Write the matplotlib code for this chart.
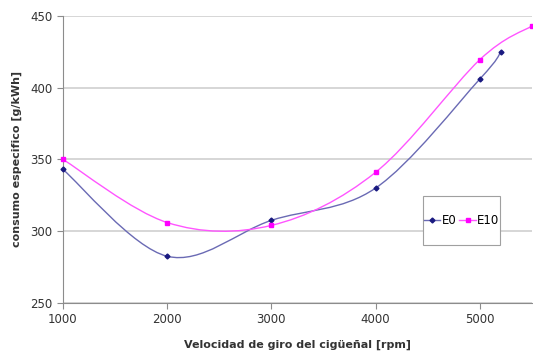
import numpy as np
import matplotlib
matplotlib.use("Agg")
import matplotlib.pyplot as plt
from matplotlib.path import Path
from matplotlib.patches import PathPatch, Rectangle

rpm_e0 = [1000, 2000, 3000, 4000, 5000, 5200]
cons_e0 = [343, 282.5, 307.5, 330, 406, 424.5]
rpm_e10 = [1000, 2000, 3000, 4000, 5000, 5500]
cons_e10 = [350, 306, 304, 341, 419.5, 443]

x_ticks = [1000, 2000, 3000, 4000, 5000]
y_ticks = [250, 300, 350, 400, 450]


def smooth_path(xs, ys):
    """Bezier path through the points (spreadsheet-style smoothed line)."""
    pts = list(zip(xs, ys))
    n = len(pts)
    verts = [pts[0]]
    codes = [Path.MOVETO]
    for i in range(n - 1):
        p0 = pts[i - 1] if i > 0 else pts[i]
        p1 = pts[i]
        p2 = pts[i + 1]
        p3 = pts[i + 2] if i + 2 < n else pts[i + 1]
        c1 = (p1[0] + (p2[0] - p0[0]) / 6, p1[1] + (p2[1] - p0[1]) / 6)
        c2 = (p2[0] - (p3[0] - p1[0]) / 6, p2[1] - (p3[1] - p1[1]) / 6)
        verts += [c1, c2, p2]
        codes += [Path.CURVE4] * 3
    return Path(verts, codes)


fig = plt.figure(figsize=(5.33, 3.61), dpi=100)
ax = fig.add_axes([0.118, 0.161, 0.880, 0.795])

ax.set_xlim(1000, 5500)
ax.set_ylim(250, 450)
ax.set_xticks(x_ticks)
ax.set_yticks(y_ticks)
ax.yaxis.grid(True, color="#d0d0d0", linewidth=1.2)
ax.set_axisbelow(True)

for s in ["top", "right"]:
    ax.spines[s].set_visible(False)
for s in ["left", "bottom"]:
    ax.spines[s].set_color("#8c8c8c")
ax.tick_params(axis="both", direction="out", length=4, color="#8c8c8c",
               labelsize=8.5, labelcolor="#333333")

series = [
    (rpm_e0, cons_e0, "E0", "#6a6ab4", "#1a1a80", "D", 2.5),
    (rpm_e10, cons_e10, "E10", "#ff55ff", "#ff00ff", "s", 3.5),
]
for xs, ys, name, lc, mc, mk, ms in series:
    ax.add_patch(PathPatch(smooth_path(xs, ys), facecolor="none",
                           edgecolor=lc, linewidth=1.0, zorder=3))
    ax.plot(xs, ys, linestyle="none", marker=mk, markersize=ms,
            color=mc, zorder=4, clip_on=False)
    ax.plot([], [], color=lc, linewidth=1.0, marker=mk, markersize=ms,
            markerfacecolor=mc, markeredgecolor=mc, label=name)

# legend box drawn separately so it can be tall and narrow
box_x, box_y, box_w, box_h = 0.768, 0.202, 0.164, 0.171
ax.add_patch(Rectangle((box_x, box_y), box_w, box_h, transform=ax.transAxes,
                       facecolor="white", edgecolor="#a0a0a0",
                       linewidth=0.8, zorder=5))
leg = ax.legend(loc="center", bbox_to_anchor=(box_x + box_w / 2, box_y + box_h / 2),
                ncol=2, frameon=False, fontsize=8.5,
                handlelength=1.4, handletextpad=0.1, columnspacing=0.25,
                borderpad=0.0, borderaxespad=0.0)
leg.set_zorder(6)

ax.set_xlabel("Velocidad de giro del cigüeñal [rpm]", fontsize=8,
              fontweight="bold", color="#333333", labelpad=10)
ax.set_ylabel("consumo especifico [g/kWh]", fontsize=8,
              fontweight="bold", color="#333333", labelpad=6)

fig.savefig("out.png", dpi=100)
